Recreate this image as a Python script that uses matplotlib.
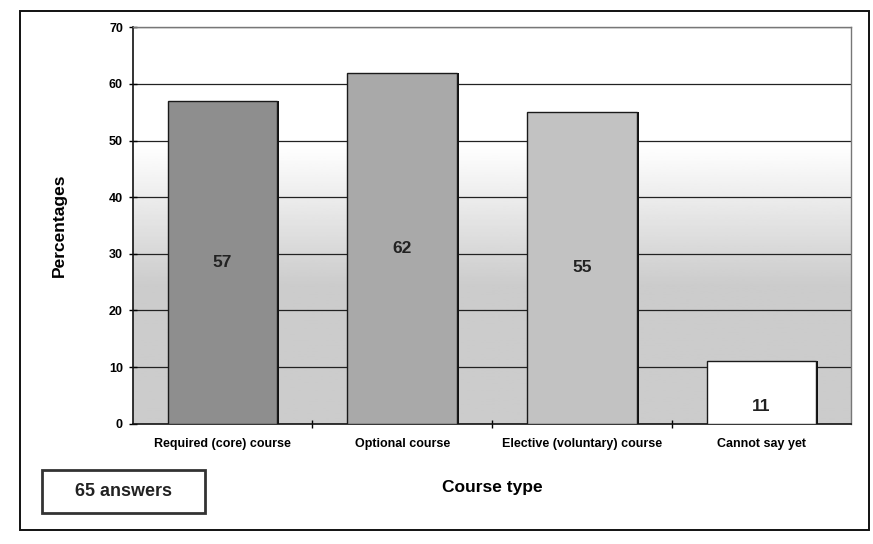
import numpy as np
import matplotlib
matplotlib.use("Agg")
import matplotlib.pyplot as plt
from matplotlib.patches import Rectangle

categories = ["Required (core) course", "Optional course",
              "Elective (voluntary) course", "Cannot say yet"]
values = [57, 62, 55, 11]
bar_colors = ["#8e8e8e", "#a9a9a9", "#c2c2c2", "#ffffff"]
y_ticks = [0, 10, 20, 30, 40, 50, 60, 70]

plt.rcParams["font.family"] = ["Liberation Sans", "DejaVu Sans"]

fig = plt.figure(figsize=(8.73, 5.44), dpi=100)
fig.patch.set_facecolor("white")

ax = fig.add_axes([0.152, 0.221, 0.823, 0.729])
x = np.arange(len(categories))
ax.set_xlim(-0.5, len(categories) - 0.5)
ax.set_ylim(0, 70)

# plot-area background: white at the top fading to grey lower down
t = np.linspace(0.0, 1.0, 256).reshape(-1, 1)
grad = 0.80 + 0.20 * np.clip((t - 0.35) / 0.35, 0, 1)
ax.imshow(grad, extent=[-0.5, len(categories) - 0.5, 0, 70], origin="lower",
          cmap="gray", vmin=0, vmax=1, aspect="auto", zorder=0)

# horizontal gridlines
for tk in y_ticks[1:]:
    ax.axhline(tk, color="#222222", lw=0.9, zorder=1)

width = 0.61
# drop shadow on the right of each bar
ax.bar(x + 0.012, values, width=width, color="#111111", zorder=2)
ax.bar(x, values, width=width, color=bar_colors, edgecolor="#1a1a1a",
       linewidth=1.0, zorder=3)

for xi, v in zip(x, values):
    ax.text(xi, v / 2 if v > 20 else v / 2 - 2.5, str(v), ha="center",
            va="center", fontsize=12.5, fontweight="bold", color="#222222",
            zorder=4)

ax.set_yticks(y_ticks)
ax.set_yticklabels([str(tk) for tk in y_ticks], fontsize=9, fontweight="bold")
ax.set_xticks(x)
ax.set_xticklabels(categories, fontsize=9, fontweight="bold")
ax.tick_params(axis="x", length=0, pad=10)
ax.tick_params(axis="y", direction="inout", length=6, width=1, pad=4)
ax.set_xticks(np.arange(len(categories) - 1) + 0.5, minor=True)
ax.tick_params(axis="x", which="minor", direction="inout", length=6, width=1)

ax.spines["left"].set_color("#111111")
ax.spines["left"].set_linewidth(1.2)
ax.spines["bottom"].set_color("#111111")
ax.spines["bottom"].set_linewidth(1.2)
for s in ("top", "right"):
    ax.spines[s].set_color("#777777")
    ax.spines[s].set_linewidth(1.0)

ax.set_ylabel("Percentages", fontsize=12.5, fontweight="bold", labelpad=30)
ax.set_xlabel("Course type", fontsize=12.5, fontweight="bold", labelpad=22)

# outer chart frame
fig.patches.append(Rectangle((0.023, 0.025), 0.972, 0.955,
                             transform=fig.transFigure, fill=False,
                             edgecolor="#111111", linewidth=1.4))

# respondent count box
fig.patches.append(Rectangle((0.048, 0.057), 0.187, 0.079,
                             transform=fig.transFigure, fill=False,
                             edgecolor="#333333", linewidth=2.0))
fig.text(0.141, 0.097, "65 answers", ha="center", va="center",
         fontsize=13, fontweight="bold", color="#222222")

fig.savefig("out.png", dpi=100)
